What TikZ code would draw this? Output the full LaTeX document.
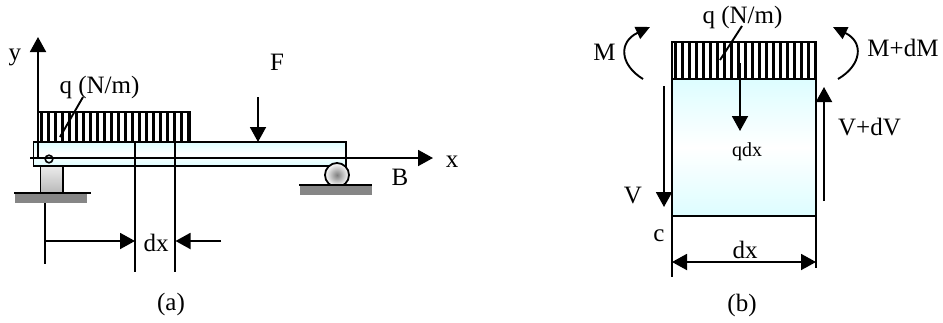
\documentclass[tikz,border=0pt]{standalone}
\usepackage{fontspec}
\setmainfont{Liberation Serif}
\usetikzlibrary{arrows.meta}
\definecolor{cyanpale}{HTML}{DDFDFF}
\definecolor{groundgray}{HTML}{868686}
\tikzset{
  lbl/.style={inner sep=0pt,font=\fontsize{25}{27}\selectfont},
  smalllbl/.style={inner sep=0pt,font=\fontsize{20}{22}\selectfont},
  wire/.style={line width=1.9pt,black},
  arr/.style={wire,-{Triangle[length=15pt,width=16pt]},shorten >=0pt},
  darr/.style={wire,{Triangle[length=15pt,width=16pt]}-{Triangle[length=15pt,width=16pt]}},
  stripe/.style={line width=3pt,black},
  beamfill/.style={draw=black,line width=1.8pt,top color=cyanpale,bottom color=cyanpale,middle color=white},
  groundfill/.style={fill=groundgray,draw=none}
}
\begin{document}
\begin{tikzpicture}[x=1pt,y=-1pt]
\useasboundingbox (0,0) rectangle (943,322);
% --- panel (a)
\foreach \s in {0,...,21}{\draw[stripe] ({41.5+\s*7},112) -- ({41.5+\s*7},142);}
\draw[line width=1.9pt] (38.5,112) rectangle (190,142);
\path[beamfill] (33.5,142) rectangle (346,166);
\shade[top color=white!85!gray,bottom color=gray!55,draw=black,line width=1.8pt] (40.5,166) rectangle (63,193);
\fill[groundfill] (15,193) rectangle (87,203);
\coordinate (g1a) at (14,193); \coordinate (g1b) at (91,193);
\draw[wire] (g1a) -- (g1b);
\shade[inner color=gray,outer color=white,draw=black,line width=1.8pt] (337,175) circle (12);
\fill[groundfill] (300,186) rectangle (372,195);
\coordinate (g2a) at (299,185); \coordinate (g2b) at (372,185);
\draw[wire] (g2a) -- (g2b);
\coordinate (xs) at (30,158); \coordinate (xe) at (433,158);
\coordinate (ys) at (38,158); \coordinate (ye) at (38,37);
\draw[arr] (xs) -- (xe);
\draw[arr] (ys) -- (ye);
\draw[line width=1.6pt] (49,159) circle (3.8);
\coordinate (d1t) at (135,142); \coordinate (d1b) at (135,272);
\coordinate (d2t) at (175,142); \coordinate (d2b) at (175,272);
\coordinate (d0t) at (45,203); \coordinate (d0b) at (45,264);
\draw[wire] (d1t) -- (d1b);
\draw[wire] (d2t) -- (d2b);
\draw[wire] (d0t) -- (d0b);
\coordinate (a1s) at (45,241); \coordinate (a1e) at (135,241);
\coordinate (a2s) at (221,241); \coordinate (a2e) at (175.5,241);
\draw[arr] (a1s) -- (a1e);
\draw[arr] (a2s) -- (a2e);
\coordinate (fs) at (258,97); \coordinate (fe) at (258,142);
\draw[arr] (fs) -- (fe);
\coordinate (la1) at (83,97); \coordinate (la2) at (60,137);
\draw[wire] (la1) -- (la2);
\node[lbl] (ty) at (15,57) {y};
\node[lbl] (tqa) at (99.5,87) {q (N/m)};
\node[lbl] (tf) at (277,62) {F};
\node[lbl] (tx) at (452,162) {x};
\node[lbl] (tb) at (400,177) {B};
\node[lbl] (tdxa) at (156,243) {dx};
\node[lbl] (tpa) at (171,304) {(a)};
% --- panel (b)
\foreach \s in {0,...,20}{\draw[stripe] ({675.5+\s*7},42) -- ({675.5+\s*7},79);}
\draw[line width=1.8pt] (672,42) rectangle (816,79);
\fill[black] (672,41) rectangle (680,43);
\shade[top color=cyanpale,bottom color=cyanpale,middle color=white] (672,79) rectangle (816,216);
\coordinate (bl) at (672,79); \coordinate (bl2) at (672,277);
\coordinate (br) at (816,79); \coordinate (br2) at (816,268);
\coordinate (bb1) at (672,216); \coordinate (bb2) at (816,216);
\draw[wire] (bl) -- (bl2);
\draw[wire] (br) -- (br2);
\draw[line width=2pt] (bl) -- (br);
\draw[line width=2pt] (bb1) -- (bb2);
\coordinate (ds) at (672,262); \coordinate (de) at (816,262);
\draw[darr] (ds) -- (de);
\coordinate (vs) at (664,86); \coordinate (ve) at (664,207);
\draw[arr] (vs) -- (ve);
\coordinate (ws) at (824,201); \coordinate (we) at (824,87);
\draw[arr] (ws) -- (we);
\coordinate (qs) at (740,63); \coordinate (qe) at (740,131);
\draw[arr] (qs) -- (qe);
\coordinate (lb1) at (742,26); \coordinate (lb2) at (720,60);
\draw[wire] (lb1) -- (lb2);
\coordinate (m1s) at (643,79); \coordinate (m1e) at (650,27);
\coordinate (m2s) at (838,79); \coordinate (m2e) at (833,27);
\draw[wire,-{Triangle[length=14pt,width=13pt]}] (m1s) .. controls (620,65) and (618,42) .. (m1e);
\draw[wire,-{Triangle[length=14pt,width=13pt]}] (m2s) .. controls (862,65) and (864,42) .. (m2e);
\node[lbl] (tqb) at (742.5,17) {q (N/m)};
\node[lbl] (tm) at (604.5,52) {M};
\node[lbl] (tmd) at (903,48) {M+dM};
\node[lbl] (tvd) at (869.5,127) {V+dV};
\node[smalllbl] (tqdx) at (747,152) {qdx};
\node[lbl] (tv) at (633,195) {V};
\node[lbl] (tc) at (659,236) {c};
\node[lbl] (tdxb) at (745,250) {dx};
\node[lbl] (tpb) at (742,305) {(b)};
\end{tikzpicture}
\end{document}
